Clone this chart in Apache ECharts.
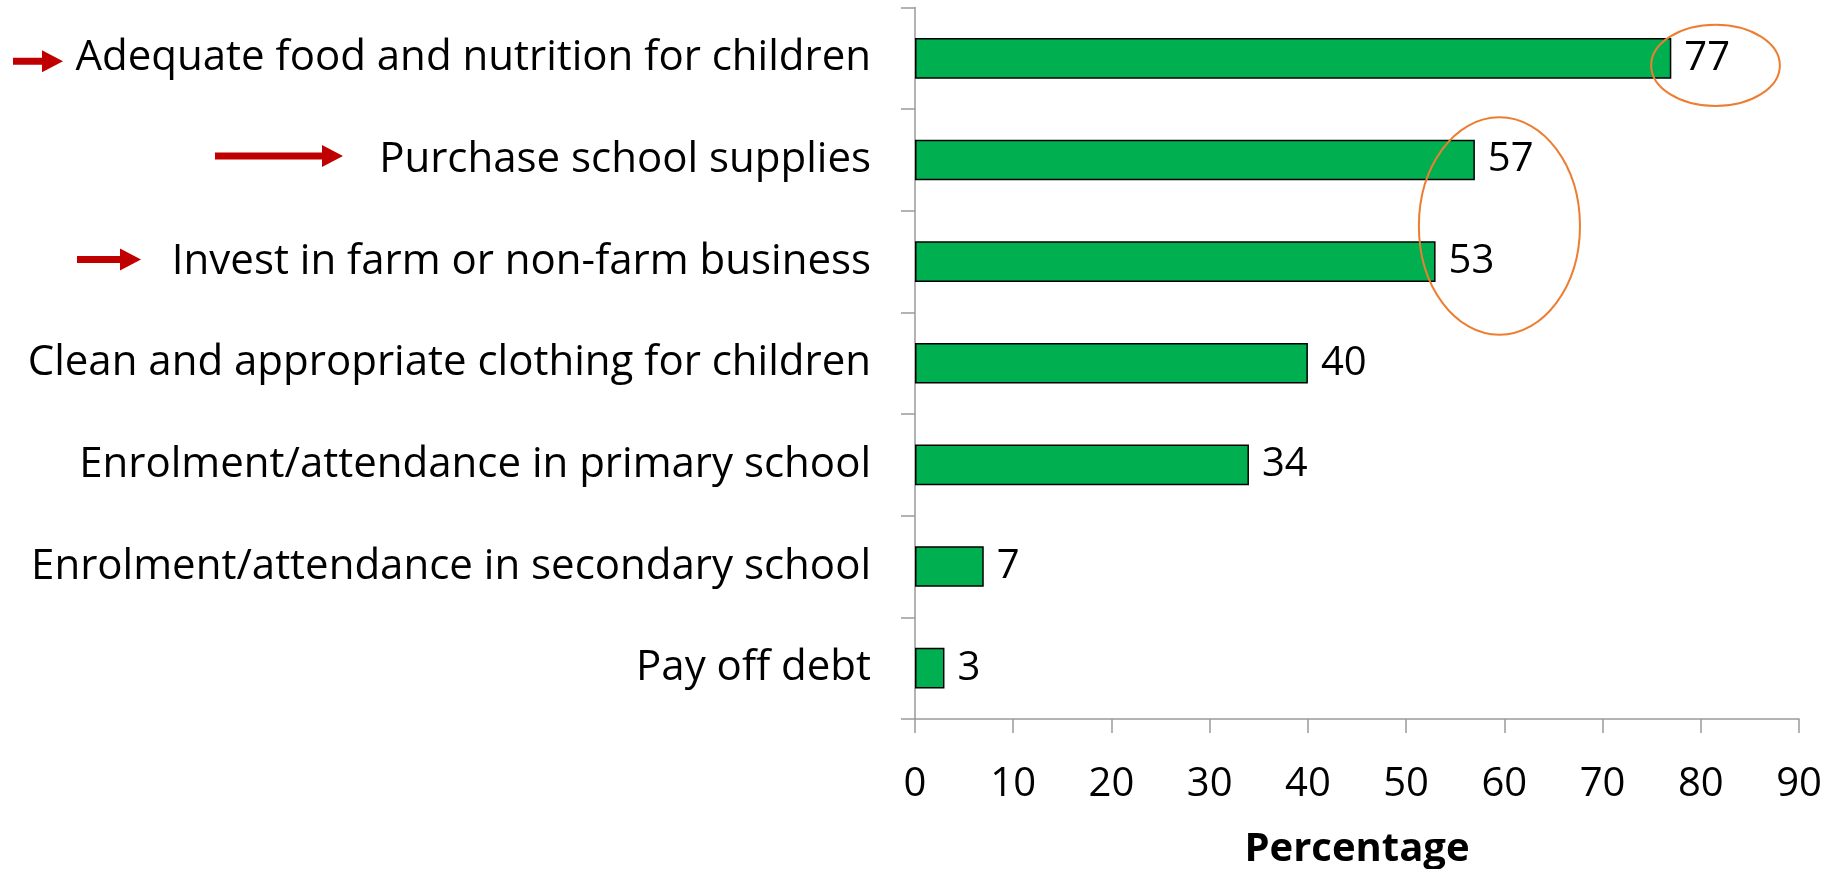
<!DOCTYPE html>
<html>
<head>
<meta charset="utf-8">
<title>Use of transfers</title>
<script src="https://cdn.jsdelivr.net/npm/echarts@6/dist/echarts.min.js"></script>
<style>
  html, body { margin: 0; padding: 0; background: #ffffff; }
  #chart { width: 1839px; height: 869px; }
</style>
</head>
<body>
<div id="chart"></div>
<script>
// Reported uses of the transfer, top to bottom
const categories = [
  'Adequate food and nutrition for children',
  'Purchase school supplies',
  'Invest in farm or non-farm business',
  'Clean and appropriate clothing for children',
  'Enrolment/attendance in primary school',
  'Enrolment/attendance in secondary school',
  'Pay off debt'
];
// Share of respondents (%)
const percentages = [77, 57, 53, 40, 34, 7, 3];
// Value axis ticks
const axisMin = 0;
const axisMax = 90;
const axisStep = 10;
const axisTitle = 'Percentage';

// Highlighted rows (red arrows) and circled values
const arrowRows = [0, 1, 2];
const circledGroups = [[0], [1, 2]];

const FONT = '"Open Sans", Lato, sans-serif';
const FONT_SIZE = 40;
const CATEGORY_FONT_SIZE = 42;
const AXIS_GREY = '#9a9a9a';

const chart = echarts.init(document.getElementById('chart'), null, { renderer: 'canvas' });

chart.setOption({
  animation: false,
  backgroundColor: '#ffffff',
  textStyle: { fontFamily: FONT, color: '#000' },
  grid: {
    left: 915, right: 40, top: 7.5, bottom: 150,
    containLabel: false,
    outerBoundsMode: 'none'
  },
  xAxis: {
    type: 'value',
    min: axisMin,
    max: axisMax,
    interval: axisStep,
    name: axisTitle,
    nameLocation: 'middle',
    nameGap: 111,
    nameTextStyle: { fontFamily: FONT, fontSize: FONT_SIZE, fontWeight: 'bold', color: '#000' },
    axisLine: { show: true, lineStyle: { color: AXIS_GREY, width: 1.5 } },
    axisTick: { show: true, length: 14, lineStyle: { color: AXIS_GREY, width: 1.5 } },
    axisLabel: { margin: 46, fontFamily: FONT, fontSize: FONT_SIZE, color: '#000' },
    splitLine: { show: false }
  },
  yAxis: {
    type: 'category',
    inverse: true,
    data: categories,
    axisLine: { show: true, lineStyle: { color: AXIS_GREY, width: 1.5 } },
    axisTick: { show: true, length: 14, lineStyle: { color: AXIS_GREY, width: 1.5 } },
    axisLabel: {
      margin: 44,
      padding: [7, 0, 0, 0],
      fontFamily: FONT,
      fontSize: CATEGORY_FONT_SIZE,
      color: '#000'
    },
    splitLine: { show: false }
  },
  series: [{
    type: 'bar',
    data: percentages,
    barWidth: '40%',
    itemStyle: { color: '#00B050', borderColor: '#000', borderWidth: 1.5 },
    label: {
      show: true,
      position: 'right',
      distance: 13,
      padding: [8, 0, 0, 0],
      fontFamily: FONT,
      fontSize: FONT_SIZE,
      color: '#000'
    }
  }]
});

// Pixel helpers built on the chart's own scales
function valueToX(value) {
  return chart.convertToPixel({ xAxisIndex: 0 }, value);
}
function rowToY(row) {
  // integer rows come from the category axis; fractions are interpolated between bands
  const base = Math.floor(row);
  const frac = row - base;
  const y0 = chart.convertToPixel({ yAxisIndex: 0 }, base);
  const y1 = chart.convertToPixel({ yAxisIndex: 0 }, base + 1);
  return y0 + (y1 - y0) * frac;
}

function drawAnnotations() {
  const elements = [];
  const bandPx = Math.abs(rowToY(1) - rowToY(0));
  const unitPx = Math.abs(valueToX(1) - valueToX(0));

  // Red arrows pointing at the highlighted labels: [tail x, tip x, vertical nudge]
  const arrowSpans = [[13, 63, 3], [215, 343, -4], [77, 141, -2]];
  arrowRows.forEach((row, i) => {
    const [tail, tip, nudge] = arrowSpans[i];
    const y = rowToY(row) + nudge;
    const shaft = 3.5, headLen = 21, headHalf = 11;
    elements.push({
      type: 'polygon',
      shape: {
        points: [
          [tail, y - shaft], [tip - headLen, y - shaft], [tip - headLen, y - headHalf],
          [tip, y], [tip - headLen, y + headHalf], [tip - headLen, y + shaft], [tail, y + shaft]
        ]
      },
      style: { fill: '#C00000' },
      z: 10
    });
  });

  // Orange ellipses around the leading values
  const ellipseSizes = [
    { dx: 4.5, drow: 0.07, rx: 6.55, ry: 0.4 },
    { dx: 4.5, drow: 0.15, rx: 8.2, ry: 1.07 }
  ];
  circledGroups.forEach((rows, i) => {
    const vals = rows.map(r => percentages[r]);
    const size = ellipseSizes[i];
    const centerVal = (Math.min(...vals) + Math.max(...vals)) / 2 + size.dx;
    const centerRow = (rows[0] + rows[rows.length - 1]) / 2 + size.drow;
    elements.push({
      type: 'ellipse',
      shape: {
        cx: valueToX(centerVal),
        cy: rowToY(centerRow),
        rx: size.rx * unitPx,
        ry: size.ry * bandPx
      },
      style: { fill: 'none', stroke: '#ED7D31', lineWidth: 2 },
      z: 10
    });
  });

  chart.setOption({ graphic: { elements: elements } });
}

drawAnnotations();
</script>
</body>
</html>
